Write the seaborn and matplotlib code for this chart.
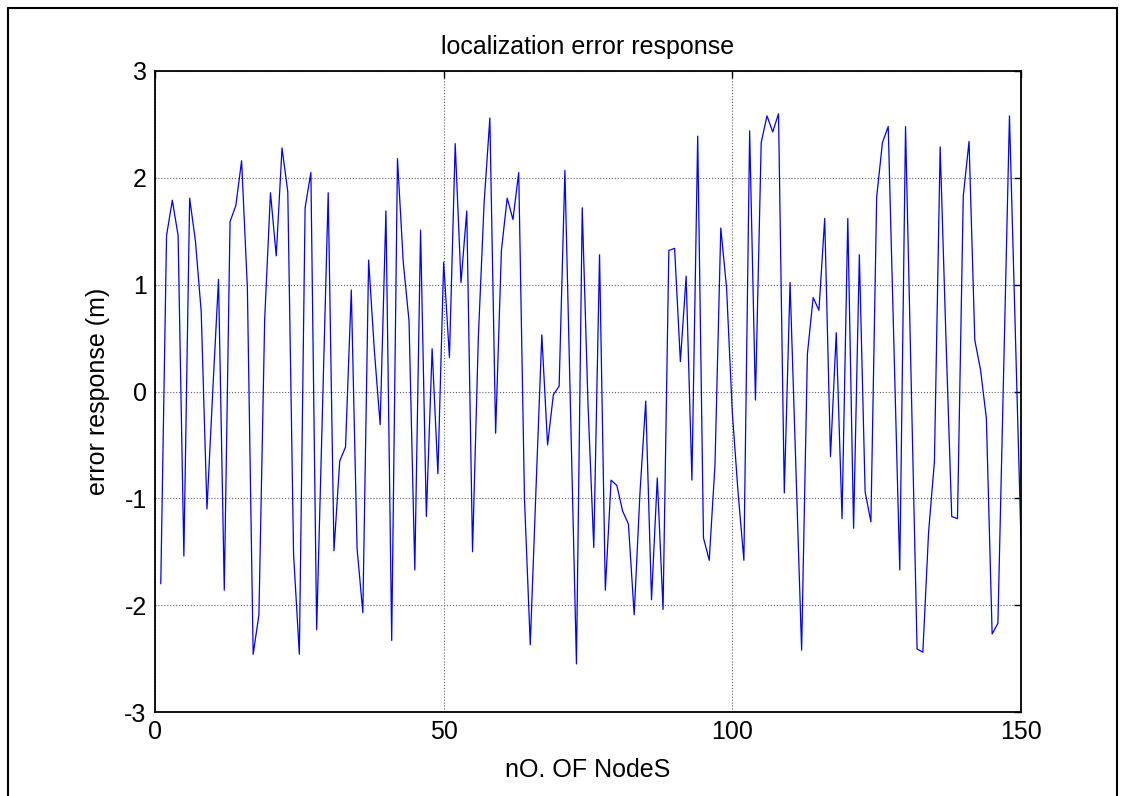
import numpy as np
import pandas as pd
import matplotlib
matplotlib.use("Agg")
import matplotlib.pyplot as plt
import seaborn as sns
from matplotlib.lines import Line2D

nodes = list(range(1, 151))
errors = [
    -1.80, 1.46, 1.79, 1.46, -1.54, 1.81, 1.41, 0.75, -1.10, 0.00,
    1.05, -1.86, 1.59, 1.74, 2.16, 0.97, -2.46, -2.09, 0.68, 1.86,
    1.27, 2.28, 1.87, -1.52, -2.46, 1.72, 2.05, -2.23, -0.20, 1.86,
    -1.49, -0.65, -0.52, 0.95, -1.47, -2.07, 1.23, 0.38, -0.31, 1.69,
    -2.33, 2.18, 1.21, 0.66, -1.67, 1.51, -1.17, 0.40, -0.77, 1.21,
    0.32, 2.32, 1.02, 1.69, -1.50, 0.50, 1.76, 2.56, -0.39, 1.32,
    1.81, 1.61, 2.05, -1.01, -2.37, -0.90, 0.53, -0.50, -0.03, 0.05,
    2.07, -0.24, -2.55, 1.72, -0.12, -1.46, 1.28, -1.86, -0.83, -0.88,
    -1.12, -1.24, -2.09, -0.95, -0.09, -1.95, -0.81, -2.04, 1.32, 1.34,
    0.28, 1.08, -0.83, 2.39, -1.37, -1.58, -0.68, 1.53, 0.97, -0.20,
    -0.95, -1.58, 2.44, -0.08, 2.33, 2.58, 2.43, 2.60, -0.95, 1.02,
    -0.70, -2.42, 0.35, 0.88, 0.76, 1.62, -0.61, 0.55, -1.19, 1.62,
    -1.28, 1.28, -0.94, -1.22, 1.82, 2.33, 2.48, 0.40, -1.67, 2.48,
    0.02, -2.41, -2.44, -1.31, -0.66, 2.29, 0.50, -1.17, -1.19, 1.83,
    2.34, 0.48, 0.20, -0.25, -2.27, -2.17, 0.20, 2.58, 0.58, -1.40,
]
x_ticks = [0, 50, 100, 150]
y_ticks = [-3, -2, -1, 0, 1, 2, 3]

title = "localization error response"
xlabel = "nO. OF NodeS"
ylabel = "error response (m)"

sns.set_style("white")
plt.rcParams['font.family'] = ['Liberation Sans', 'DejaVu Sans']
plt.rcParams['text.color'] = 'black'
plt.rcParams['axes.labelcolor'] = 'black'

fig = plt.figure(figsize=(11.21, 7.96), dpi=100)
ax = fig.add_axes([155/1121, 1 - 712/796, 866/1121, 641/796])

df = pd.DataFrame({"node": nodes, "err": errors})
sns.lineplot(data=df, x="node", y="err", ax=ax, color="#0000FF", linewidth=0.9)

ax.set_xlim(0, 150)
ax.set_ylim(-3, 3)
ax.set_xticks(x_ticks)
ax.set_yticks(y_ticks)
ax.set_xticklabels([str(t) for t in x_ticks])
ax.set_yticklabels([str(t) for t in y_ticks])
ax.grid(True, color="#606060", linestyle=":", linewidth=0.8)
ax.tick_params(direction="in", length=5, width=1, top=True, right=True,
               labelsize=18, pad=6, colors="black", labelcolor="black")
for s in ax.spines.values():
    s.set_visible(True)
    s.set_color("black")
    s.set_linewidth(1.3)

ax.set_title(title, fontsize=18, pad=12, color="black")
ax.set_xlabel(xlabel, fontsize=18, labelpad=10, color="black")
ax.set_ylabel(ylabel, fontsize=18, labelpad=10, color="black")

# outer screenshot frame
fig.add_artist(Line2D([8/1121, 8/1121], [0, 1 - 8/796], transform=fig.transFigure, color="black", lw=1.5))
fig.add_artist(Line2D([8/1121, 1117/1121], [1 - 8/796, 1 - 8/796], transform=fig.transFigure, color="black", lw=1.5))
fig.add_artist(Line2D([1117/1121, 1117/1121], [0, 1 - 8/796], transform=fig.transFigure, color="black", lw=1.5))

fig.savefig("out.png", dpi=100, facecolor="white")
